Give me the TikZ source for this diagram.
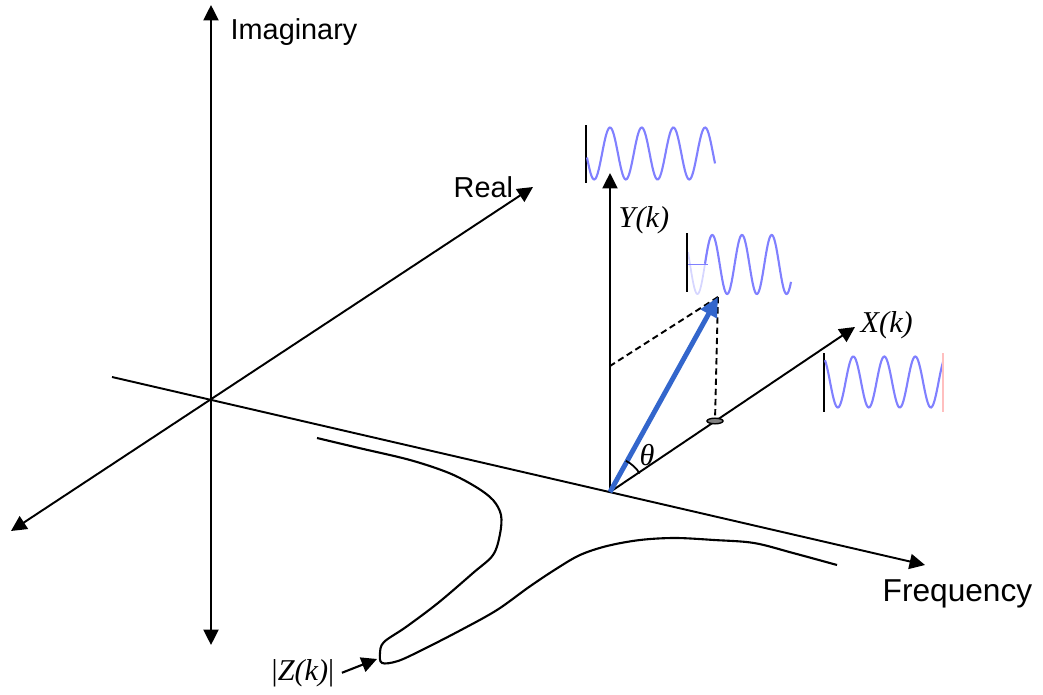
\documentclass[tikz,border=0pt]{standalone}
\usepackage{fontspec}
\setmainfont{Liberation Serif}
\setsansfont{Liberation Sans}
\usetikzlibrary{arrows.meta}

\definecolor{vecblue}{RGB}{51,102,204}
\definecolor{wave}{RGB}{128,128,255}
\definecolor{wavefaint}{RGB}{214,214,255}

\tikzset{
  axis/.style={line width=0.55pt,-{Triangle[length=4.4pt,width=4.3pt]}},
  biaxis/.style={line width=0.55pt,{Triangle[length=4.4pt,width=4.3pt]}-{Triangle[length=4.4pt,width=4.3pt]}},
  proj/.style={line width=0.55pt,dash pattern=on 1.8pt off 1.1pt},
  lbl/.style={font=\sffamily\fontsize{8.2}{10}\selectfont,inner sep=0pt,anchor=base west},
  mlbl/.style={font=\itshape\fontsize{8.6}{10}\selectfont,inner sep=0pt,anchor=base west},
  bar/.style={line width=0.7pt},
  sine/.style={wave,line width=0.6pt,samples=120}
}

\begin{document}
\begin{tikzpicture}[x=0.01cm,y=0.01cm]
\useasboundingbox (0,0) rectangle (1043,694);

% points of the frame
\coordinate (O) at (211,294);
\coordinate (imbot) at (211,49);
\coordinate (imtop) at (211,689);
\coordinate (rebot) at (11,163);
\coordinate (retop) at (533,507);
\coordinate (frbeg) at (112,317);
\coordinate (frend) at (925,129);
\coordinate (P) at (610,202);
\coordinate (ytip) at (610,521);
\coordinate (xtip) at (855,367);
\coordinate (vtip) at (718,397);
\coordinate (yfoot) at (610,328);
\coordinate (xfoot) at (715,273);

%==== main axes ====
\draw[biaxis] (imbot) -- (imtop);
\draw[biaxis] (rebot) -- (retop);
\draw[axis] (frbeg) -- (frend);
\node[lbl] (imlab) at (230,654) {Imaginary};
\node[lbl] (relab) at (453,496) {Real};
\node[lbl,font=\sffamily\fontsize{9}{11}\selectfont] (frlab) at (882,93) {Frequency};

%==== local frame at (P) ====
\draw[axis] (P) -- (ytip);
\draw[axis] (P) -- (xtip);
\node[mlbl] (ylab) at (618,466) {Y(k)};
\node[mlbl] (xlab) at (860,361) {X(k)};

% projections
\draw[proj] (vtip) -- (yfoot);
\draw[proj] (vtip) -- (xfoot);
\filldraw[fill=gray,line width=0.4pt] (xfoot) ellipse [x radius=0.08cm,y radius=0.028cm];

% the vector and its angle
\draw[vecblue,line width=1.4pt,-{Triangle[length=5.5pt,width=5pt]}] (P) -- (vtip);
\draw[line width=0.5pt] ([shift={(32:0.35cm)}]P) arc[start angle=32,end angle=63,radius=0.35cm];
\node[font=\itshape\fontsize{8.6}{10}\selectfont] (thlab) at (647,239) {θ};

%==== waves ====
% on Y(k)
\draw[bar] (586,511) -- (586,569);
\draw[sine,domain=587:715] plot(\x,{540.5+26*cos(((\x-610)/31.7)*360)});
% on the vector
\draw[wavefaint,line width=0.5pt,domain=688:712,samples=40]
  plot(\x,{429.5+29.5*cos(((\x-712.3)/29.7)*360)});
\draw[wave,line width=0.55pt] (688,429.5) -- (708,429.5);
\draw[sine,domain=705:791] plot(\x,{429.5+29.5*cos(((\x-712.3)/29.7)*360)});
\draw[bar] (687,402) -- (687,461);
% on X(k)
\draw[bar] (824,282) -- (824,341);
\draw[sine,domain=825:943] plot(\x,{312+25.5*cos(((\x-853.3)/31)*360)});
\draw[red!25,line width=0.4pt] (943,282) -- (943,341);

%==== |Z(k)| ====
\draw[line width=0.6pt] plot[smooth,tension=0.55] coordinates {
  (317,256) (359,246) (410,234) (449,221) (476,207) (493,194) (501,179)
  (500,160) (493,139) (473,121) (438,91) (406,67) (384,52) (380,41)
  (382,31) (398,33) (422,44) (461,64) (497,84) (529,107) (556,125)
  (580,139) (607,148) (640,154) (675,156) (714,154) (754,151) (793,141)
  (837,129)};
\node[mlbl,font=\fontsize{8.6}{10}\selectfont] (zlab) at (271,14) {|\textit{Z(k)}|};
\coordinate (ztip) at (377,35);
\draw[line width=0.6pt,-{Triangle[length=4.4pt,width=4.3pt]}] ([xshift=2pt]zlab.east) -- (ztip);

\end{tikzpicture}
\end{document}
